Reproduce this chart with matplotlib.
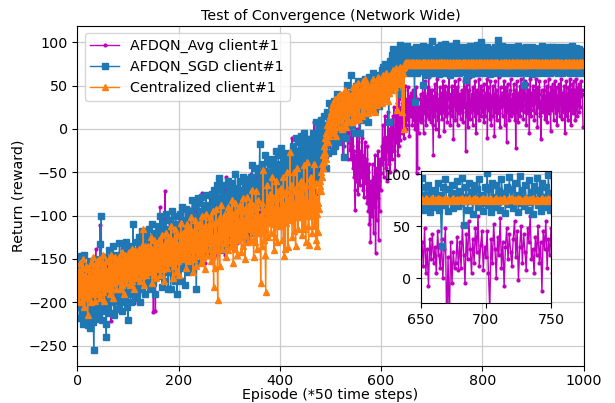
import matplotlib
matplotlib.use("Agg")
import matplotlib.pyplot as plt

episodes = list(range(1000))

avg_client1 = [
-180,-160,-205,-175,-150,-195,-170,-215,-185,-155,-200,-178,-148,-210,-188,-165,-198,-172,-220,-182,
-190,-168,-205,-228,-175,-195,-160,-210,-182,-198,-170,-215,-185,-165,-200,-178,-139,-192,-208,-175,
-185,-160,-200,-172,-190,-111,-178,-205,-165,-188,-150,-198,-175,-210,-168,-185,-158,-195,-172,-180,
-170,-190,-155,-182,-165,-200,-222,-175,-160,-188,-150,-178,-195,-162,-185,-145,-172,-198,-168,-180,
-160,-178,-145,-185,-165,-150,-195,-170,-138,-175,-158,-188,-148,-168,-200,-155,-172,-142,-180,-162,
-158,-172,-140,-180,-160,-148,-190,-165,-135,-170,-152,-201,-160,-145,-178,-138,-165,-185,-150,-168,
-150,-170,-135,-160,-182,-145,-165,-128,-175,-152,-140,-188,-158,-132,-168,-148,-175,-140,-162,-150,
-145,-165,-130,-158,-178,-140,-160,-125,-170,-148,-211,-135,-162,-150,-210,-138,-168,-128,-155,-142,
-140,-158,-125,-90,-165,-135,-150,-118,-170,-140,-128,-160,-135,-72,-148,-122,-162,-138,-130,-152,
-135,-160,-108,-145,-128,-152,-115,-138,-170,-120,-132,-158,-110,-145,-125,-165,-142,-115,-150,-128,
-112,-165,-130,-105,-148,-120,-138,-98,-155,-128,-122,-145,-108,-135,-160,-118,-140,-102,-150,-125,
-118,-150,-92,-132,-112,-142,-98,-125,-160,-105,-120,-145,-95,-135,-110,-155,-128,-100,-140,-115,
-110,-135,-95,-122,-150,-105,-130,-74,-140,-112,-100,-155,-118,-92,-138,-105,-128,-88,-145,-115,
-110,-140,-80,-122,-100,-132,-85,-112,-150,-95,-108,-135,-82,-125,-100,-145,-118,-90,-130,-105,
-100,-125,-85,-112,-140,-95,-118,-78,-130,-102,-90,-145,-108,-55,-128,-95,-115,-75,-135,-105,
-98,-128,-68,-108,-88,-120,-72,-100,-138,-82,-95,-122,-70,-110,-88,-132,-105,-78,-118,-92,
-85,-110,-70,-98,-125,-80,-102,-62,-115,-88,-75,-130,-92,-65,-112,-80,-100,-60,-120,-90,
-82,-112,-52,-92,-72,-105,-58,-85,-122,-68,-80,-108,-55,-95,-72,-118,-90,-62,-102,-78,
-60,-115,-78,-50,-98,-65,-85,-45,-105,-75,-70,-95,-55,-82,-110,-65,-88,-48,-100,-72,
-68,-98,-38,-78,-58,-90,-42,-70,-108,-52,-65,-92,-40,-80,-58,-102,-75,-48,-88,-62,
-55,-80,-40,-68,-95,-50,-72,-32,-85,-58,-45,-100,-62,-35,-82,-50,-70,-30,-90,-60,
-48,-72,-32,-60,-10,-42,-65,-25,-78,-50,-38,-92,-55,-28,-75,-42,-62,-22,-82,-52,
-30,-85,-48,-20,-68,-35,-55,-15,-75,-45,-40,-65,-25,-52,-80,-35,-58,-18,-70,-42,
-32,-55,-15,-42,-70,-25,-48,8,-60,-35,-20,-75,-38,-10,-58,-28,-45,-5,-65,-35,
-30,-10,-40,-5,-25,-15,-35,0,-20,-8,-30,5,-18,-2,-25,10,-12,2,-20,8,
0,15,-10,20,5,-5,25,8,-12,18,2,28,-8,12,22,-3,15,30,5,-5,
10,-15,22,0,-30,15,5,-20,28,8,-10,20,-5,12,-35,18,2,-15,10,-24,
-10,-35,5,-20,-45,-5,-55,-25,-70,-93,-30,-60,0,-40,-75,-15,-50,10,-65,-35,
-25,-55,-10,-40,-70,-30,-78,-45,-15,-60,-35,-62,-85,-20,-50,-95,-40,-110,-65,-130,
-85,-60,-100,-40,-75,-120,-55,-90,-30,-143,-70,-105,-45,-80,-25,-128,-60,-95,-35,-70,
-51,-20,-40,5,-30,-55,-10,-35,15,-45,-15,-60,-9,-25,20,-40,0,-30,-50,10,
-20,5,-35,15,-10,25,-25,0,-47,20,-15,30,-5,-30,10,35,-20,15,-13,25,
10,30,-5,40,20,-10,45,15,50,0,25,35,12,48,5,28,-8,38,18,42,
15,30,5,45,22,10,38,0,28,48,-51,20,-45,35,-5,25,10,15,40,8,
35,10,50,22,-5,42,18,55,28,5,38,15,48,25,60,12,32,45,8,30,
20,45,5,-30,38,15,52,28,0,40,22,58,10,35,-8,30,48,18,42,25,
12,38,55,20,45,-2,30,50,15,42,25,8,48,35,60,18,28,5,40,22,
50,15,35,-12,45,28,55,10,38,22,48,5,30,58,18,40,25,12,35,45,
20,42,8,35,55,25,48,-25,30,15,52,38,2,45,28,60,12,35,20,40,
30,5,48,22,40,15,55,28,-5,38,45,18,32,58,10,42,25,50,15,35,
45,20,38,8,52,30,15,42,25,58,-10,35,48,22,40,12,55,28,5,38,
25,50,15,40,-8,32,55,20,45,10,38,28,60,18,35,2,48,25,42,30,
15,42,28,55,5,38,22,48,-15,35,52,20,40,10,45,30,58,15,35,25,
40,18,52,28,10,45,-22,35,55,20,42,8,38,25,50,15,32,58,22,45,
28,12,48,35,55,20,40,5,30,52,18,45,25,-5,38,58,15,42,28,35,
50,22,38,10,45,30,58,18,35,2,48,25,40,55,15,32,-12,45,28,38,
20,45,30,55,12,38,25,50,8,42,35,58,18,40,28,-2,48,22,35,52,
30,10,45,25,55,18,38,48,5,35,22,52,40,15,45,28,58,12,38,25,
42,20,50,-5,35,28,55,15,40,10,48,32,22,58,38,5,45,25,52,18,
35,55,22,45,10,40,58,28,15,48,32,52,20,42,25,55,38,45,40,2,
]

sgd_client1 = [
-175,-205,-148,-190,-218,-165,-200,-147,-212,-183,-225,-158,-196,-146,-208,-222,-171,-189,-215,-160,
-198,-226,-180,-210,-152,-230,-187,-215,-200,-165,-223,-192,-255,-206,-178,-219,-195,-150,-212,-185,
-200,-176,-215,-190,-133,-208,-170,-100,-195,-220,-160,-187,-210,-148,-200,-182,-225,-240,-172,-196,
-165,-205,-185,-140,-212,-178,-195,-150,-200,-172,-188,-135,-215,-180,-160,-198,-145,-190,-170,-208,
-155,-195,-178,-132,-200,-165,-185,-145,-210,-170,-152,-190,-138,-175,-198,-160,-130,-182,-205,-168,
-220,-165,-190,-148,-175,-200,-135,-170,-185,-155,-110,-180,-160,-195,-140,-172,-150,-188,-130,-168,
-145,-180,-125,-165,-200,-150,-170,-118,-185,-155,-140,-175,-130,-190,-160,-122,-178,-148,-165,-135,
-140,-172,-115,-158,-185,-130,-165,-110,-150,-178,-125,-160,-138,-190,-145,-120,-168,-135,-155,-112,
-150,-118,-170,-135,-100,-160,-128,-182,-140,-108,-155,-130,-175,-115,-148,-98,-165,-125,-142,-185,
-130,-165,-105,-145,-185,-120,-150,-95,-160,-128,-140,-110,-175,-135,-100,-158,-125,-190,-115,-145,
-120,-155,-98,-140,-175,-110,-148,-90,-135,-160,-105,-128,-180,-115,-145,-92,-138,-122,-165,-100,
-118,-145,-95,-130,-160,-108,-135,-82,-125,-150,-100,-140,-115,-90,-155,-185,-120,-105,-138,-80,
-86,-120,-140,-95,-110,-130,-78,-118,-100,-145,-105,-88,-125,-112,-76,-135,-98,-120,-90,-108,
-95,-125,-145,-88,-110,-75,-130,-100,-82,-118,-70,-105,-135,-92,-112,-65,-98,-120,-80,-57,
-105,-85,-128,-70,-110,-95,-140,-78,-100,-120,-65,-92,-115,-82,-130,-75,-102,-60,-118,-88,
-80,-110,-70,-98,-125,-85,-62,-105,-90,-118,-75,-95,-52,-100,-82,-128,-68,-92,-112,-78,
-72,-100,-60,-90,-118,-78,-95,-55,-85,-110,-70,-98,-62,-88,-125,-75,-92,-58,-105,-80,
-62,-98,-55,-72,-92,-42,-68,-120,-85,-60,-100,-78,-45,-88,-70,-110,-80,-50,-90,-65,
-17,-70,-90,-55,-80,-40,-100,-65,-48,-85,-60,-30,-75,-95,-52,-68,-38,-88,-58,-72,
-60,-40,-68,-55,-78,-35,-48,-100,-65,-42,-85,-58,-25,-70,-50,-90,-62,-30,-75,-45,
-40,-70,-22,-55,-85,-45,-62,-30,-50,-78,-38,-95,-58,-28,-66,-45,-72,-35,-52,-60,
-40,-70,-30,-42,-62,-20,-38,-85,-52,-28,-68,-45,-10,-55,-35,-75,-48,-15,-58,-30,
-25,-50,-8,-40,-68,-30,-48,-5,-35,-60,-18,-45,-75,-28,-12,-55,-38,-22,-62,-32,
-28,-38,-12,-22,-45,-5,-18,-60,-32,-10,-50,-25,8,-35,-20,-55,-28,2,-40,-15,
-5,-25,10,-15,-40,0,-20,15,-8,-30,5,-18,-45,-2,20,-12,-28,30,5,-15,
10,-10,25,0,-25,15,-5,32,8,-20,18,-2,40,5,-15,22,12,-8,28,2,
18,5,30,-5,22,10,-32,25,8,35,15,-10,28,51,12,38,20,2,42,15,
62,20,35,5,28,45,15,38,-5,30,50,22,10,40,25,55,18,32,12,-5,
30,48,15,38,55,25,42,10,35,58,28,45,20,50,32,8,40,60,22,36,
42,58,30,50,65,38,48,22,55,40,60,35,52,28,45,26,58,40,62,50,
55,68,45,72,50,62,40,75,58,48,70,55,65,42,60,8,68,52,78,62,
70,85,60,78,92,65,80,55,88,72,62,90,75,68,82,40,78,92,97,72,
40,88,70,95,65,82,75,92,68,85,72,96,66,80,88,70,90,64,84,76,
68,85,72,92,66,80,31,88,70,95,74,65,86,78,90,67,82,75,93,69,
84,72,96,51,78,88,66,92,74,83,62,90,76,86,68,95,72,80,65,88,
75,101,70,86,64,92,78,68,90,73,84,66,95,76,82,63,88,71,97,74,
86,67,92,75,80,64,98,72,85,69,90,77,66,94,73,83,62,89,76,96,
70,85,65,92,78,68,88,74,99,66,82,72,94,64,86,76,90,68,80,73,
92,66,84,75,95,70,81,57,88,72,64,90,77,85,68,96,74,82,63,89,
76,94,67,83,72,90,65,86,78,97,70,84,64,92,75,81,68,89,100,73,
85,68,93,74,80,64,91,77,86,70,95,66,83,75,89,63,92,72,82,78,
67,90,76,84,65,94,73,87,69,81,74,103,66,88,78,92,64,85,72,96,
75,82,68,93,71,86,65,90,78,84,67,95,73,80,64,89,76,92,70,83,
88,66,94,74,81,65,92,77,85,69,96,72,83,64,90,76,86,68,93,75,
80,67,51,89,73,84,66,95,70,87,64,92,77,82,68,90,74,85,63,94,
72,86,66,91,78,83,65,93,70,88,75,80,64,92,74,85,68,96,73,81,
89,67,84,75,92,65,80,72,90,68,86,77,94,64,82,74,88,70,95,76,
83,66,91,73,85,68,94,77,81,64,89,72,86,69,92,75,83,65,95,74,
80,68,88,75,93,66,84,71,90,67,86,78,94,64,82,73,89,70,96,76,
84,67,91,74,86,65,93,72,80,69,88,76,92,64,85,73,90,68,87,78,
]

central_client1 = [
-185,-165,-200,-175,-155,-192,-170,-188,-160,-198,-178,-150,-205,-182,-168,-195,-172,-158,-190,-176,
-215,-180,-162,-195,-170,-185,-155,-200,-175,-165,-190,-148,-182,-170,-198,-160,-185,-175,-152,-188,
-172,-160,-190,-150,-178,-195,-165,-182,-155,-170,-188,-145,-175,-198,-162,-180,-152,-185,-168,-176,
-165,-180,-150,-172,-190,-158,-175,-145,-185,-162,-170,-195,-155,-178,-148,-168,-185,-160,-175,-152,
-160,-175,-148,-168,-185,-152,-170,-142,-180,-158,-165,-190,-150,-172,-145,-162,-178,-155,-170,-148,
-155,-170,-142,-162,-180,-148,-165,-138,-175,-152,-160,-185,-145,-168,-140,-158,-172,-150,-165,-142,
-150,-165,-138,-158,-175,-145,-160,-135,-170,-148,-116,-180,-142,-162,-135,-155,-168,-145,-158,-138,
-135,-155,-142,-165,-152,-125,-160,-138,-178,-150,-145,-168,-128,-158,-140,-172,-155,-132,-162,-148,
-142,-158,-128,-150,-168,-135,-152,-122,-162,-140,-145,-175,-132,-155,-120,-148,-160,-138,-150,-130,
-125,-145,-132,-155,-142,-112,-150,-128,-172,-140,-135,-158,-115,-148,-130,-165,-145,-122,-152,-138,
-135,-168,-122,-145,-108,-138,-150,-128,-140,-120,-132,-148,-118,-140,-160,-125,-142,-110,-152,-130,
-115,-136,-122,-148,-132,-102,-140,-118,-165,-132,-125,-150,-105,-138,-120,-158,-135,-112,-145,-128,
-125,-140,-108,-132,-155,-115,-135,-100,-148,-122,-128,-162,-112,-138,-98,-130,-145,-118,-132,-110,
-120,-138,-102,-128,-152,-110,-132,-95,-145,-182,-125,-160,-108,-135,-92,-125,-140,-197,-128,-105,
-120,-158,-102,-130,-88,-122,-138,-108,-125,-100,-118,-132,-98,-125,-148,-105,-128,-90,-140,-115,
-95,-120,-102,-135,-118,-82,-128,-98,-155,-118,-110,-138,-85,-125,-100,-145,-120,-92,-128,-112,
-108,-125,-88,-115,-142,-95,-120,-80,-135,-105,-112,-150,-92,-122,-78,-112,-130,-98,-115,-90,
-85,-110,-92,-128,-108,-70,-118,-88,-148,-108,-100,-130,-72,-118,-90,-138,-112,-82,-120,-105,
-100,-118,-178,-108,-135,-85,-112,-47,-128,-95,-105,-145,-188,-115,-65,-102,-125,-88,-108,-80,
-75,-102,-82,-120,-98,-55,-110,-78,-140,-100,-90,-125,-60,-108,-80,-130,-102,-72,-112,-95,
-92,-110,-68,-100,-128,-75,-105,-55,-147,-88,-98,-138,-72,-108,-50,-95,-136,-80,-100,-70,
-27,-105,-65,-95,-125,-72,-100,-50,-118,-85,-92,-135,-68,-102,-45,-90,-115,-75,-98,-62,
-85,-102,-60,-92,-122,-68,-98,-42,-115,-80,-90,-130,-65,-100,-38,-88,-112,-134,-95,-58,
-82,-100,-55,-90,-120,-65,-95,-40,-112,-78,-88,-128,-62,-98,-135,-85,-119,-70,-92,-60,
-66,-50,-72,-40,-55,-30,-45,-20,-38,-10,-28,-5,-35,-13,5,-15,0,10,-8,15,
5,20,-5,25,10,30,0,18,35,8,22,-8,28,12,38,15,2,25,40,18,
10,28,0,32,18,40,5,25,45,15,30,2,35,20,42,12,28,8,38,22,
20,35,8,40,25,48,15,32,50,22,38,10,42,28,53,18,35,12,45,30,
28,45,15,42,55,30,48,20,38,58,25,45,35,52,18,40,30,50,22,44,
35,50,25,45,58,32,48,20,42,55,38,28,52,40,60,30,46,36,55,42,
40,55,30,50,62,42,58,35,48,65,38,52,45,60,32,55,42,62,48,58,
50,62,45,58,68,52,65,48,60,70,55,22,62,58,68,52,65,60,72,64,
62,68,20,70,65,0,72,74,76,75,77,76,74,75,77,76,75,74,76,77,
75,76,74,77,75,76,75,74,76,77,75,76,74,75,76,77,75,74,76,75,
76,75,77,74,76,75,76,77,75,74,76,75,77,76,75,74,76,75,77,76,
74,76,75,77,76,74,75,76,77,75,74,76,75,76,77,74,75,76,75,77,
77,75,76,74,75,77,76,75,74,76,75,77,74,76,75,76,77,75,74,76,
75,74,76,77,75,76,74,75,77,76,75,74,76,75,77,76,75,74,76,75,
76,77,75,74,76,75,77,76,74,75,76,75,77,74,76,75,76,77,75,74,
74,75,77,76,75,74,76,75,77,76,74,75,76,77,75,76,74,75,77,76,
75,76,74,75,77,76,75,74,76,77,75,76,74,76,75,77,75,74,76,75,
77,74,76,75,76,77,74,75,76,75,77,76,75,74,76,75,77,76,74,75,
76,75,74,77,75,76,75,77,74,76,75,74,76,77,75,76,74,75,76,77,
75,77,76,74,76,75,77,75,76,74,77,75,76,75,74,76,77,75,76,74,
74,76,75,77,75,74,76,76,75,77,75,74,76,75,77,74,76,75,77,76,
76,75,77,75,74,76,75,77,76,75,74,76,77,75,76,74,75,77,75,76,
75,74,76,77,76,75,74,75,77,76,75,76,74,77,75,76,75,74,76,77,
77,75,74,76,75,77,76,74,75,76,77,75,76,74,75,77,76,75,74,76,
76,74,75,77,76,75,77,75,74,76,75,77,74,76,76,75,74,77,75,76,
75,76,77,74,75,76,74,77,76,75,74,76,75,77,75,76,74,75,77,75,
]

xticks_main = [0, 200, 400, 600, 800, 1000]
yticks_main = [-250, -200, -150, -100, -50, 0, 50, 100]
xticks_inset = [650, 700, 750]
yticks_inset = [0, 50, 100]

FS = 10.3
plt.rcParams['font.family'] = ['DejaVu Sans']
plt.rcParams['font.size'] = FS

fig = plt.figure(figsize=(6.15, 4.03), dpi=100)
ax = fig.add_axes([0.126, 0.093, 0.8228, 0.843])

def draw(a):
    a.plot(episodes, avg_client1, color='m', marker='.', markersize=4,
           linewidth=1, label='AFDQN_Avg client#1')
    a.plot(episodes, sgd_client1, color='#1f77b4', marker='s', markersize=4.3,
           linewidth=1, label='AFDQN_SGD client#1')
    a.plot(episodes, central_client1, color='#ff7f0e', marker='^', markersize=4.3,
           linewidth=1, label='Centralized client#1')

draw(ax)
ax.set_xlim(0, 1000)
ax.set_ylim(-273, 119)
ax.set_xticks(xticks_main)
ax.set_yticks(yticks_main)
ax.grid(True, color='#cccccc', linewidth=0.9)
ax.set_axisbelow(True)
ax.tick_params(labelsize=FS)
ax.tick_params(axis='x', pad=2.5)
ax.set_xlabel('Episode (*50 time steps)', fontsize=FS, labelpad=0)
ax.set_ylabel('Return (reward)', fontsize=FS, labelpad=2)
ax.set_title('Test of Convergence (Network Wide)', fontsize=FS, pad=4)
ax.legend(loc='upper left', fontsize=FS, borderaxespad=0.5)

ins = fig.add_axes([0.684, 0.248, 0.212, 0.3275])
draw(ins)
ins.set_xlim(650, 750)
ins.set_ylim(-24, 103)
ins.set_xticks(xticks_inset)
ins.set_yticks(yticks_inset)
ins.grid(True, color='#cccccc', linewidth=0.9)
ins.set_axisbelow(True)
ins.tick_params(labelsize=FS)

fig.savefig('out.png', dpi=100)
